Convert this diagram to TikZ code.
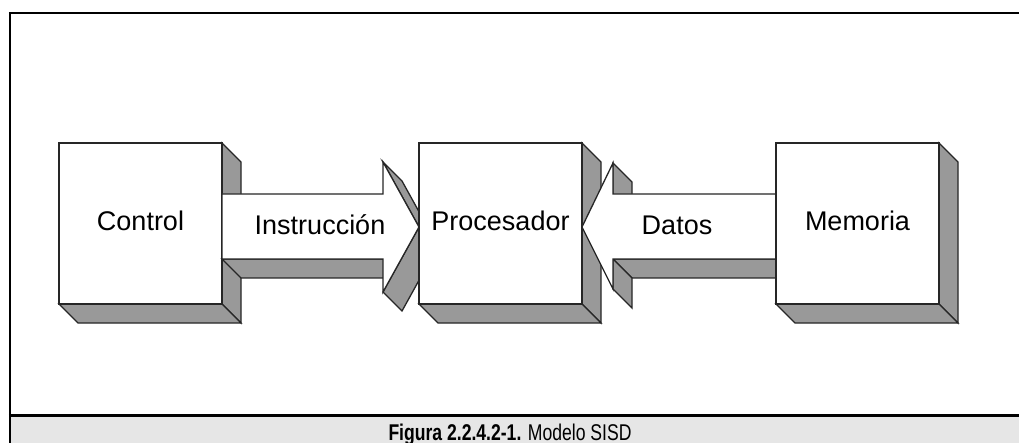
\documentclass[tikz,border=0pt]{standalone}
\usepackage{fontspec}
\setmainfont{Liberation Sans}
\usetikzlibrary{calc}
\definecolor{shade}{HTML}{999999}
\definecolor{edge}{HTML}{262626}
\definecolor{capbg}{HTML}{E6E6E6}
\tikzset{
  face/.style={fill=shade, draw=edge, line width=1.3pt, line join=miter},
  front/.style={fill=white, draw=edge, line width=1.3pt, line join=miter},
  box3d/.style={front, rectangle, inner sep=0pt, outer sep=0pt,
    minimum width=163pt, minimum height=161pt,
    font=\fontsize{27}{32}\selectfont, text height=19pt, text depth=4pt},
  arrowtext/.style={anchor=base, inner sep=0pt, font=\fontsize{27}{32}\selectfont},
  frameline/.style={line width=2.4pt, black},
}
\begin{document}
\begin{tikzpicture}[x=1pt,y=-1pt]
\useasboundingbox (0,0) rectangle (1019,443);
% frame and caption band
\fill[capbg] (10,415.5) rectangle (1019,443);
\draw[frameline] (8.8,13) -- (1019,13);
\draw[frameline] (10,13) -- (10,443);
\draw[frameline] (8.8,415.5) -- (1019,415.5);
\node[anchor=base, inner sep=0pt] (cap) at (510,440)
  {\resizebox{243pt}{16.5pt}{\textbf{Figura 2.2.4.2-1.} Modelo SISD}};

% ---- Control box
\coordinate (c0) at (140.5,223.5);
\path[face] (222,143) -- (241,162) -- (241,323) -- (222,304) -- cycle;
\path[face] (59,304) -- (78,323) -- (241,323) -- (222,304) -- cycle;
\node[box3d] (ctrl) at (c0) {Control};

% ---- Instruccion arrow
\path[face] (ctrl.east |- 0,259) -- (383,259) -- (402,278) -- (241,278) -- cycle;
\path[face] (383,162) -- (419,227) -- (438,246) -- (402,181) -- cycle;
\path[face] (419,227) -- (383,292) -- (402,311) -- (438,246) -- cycle;
\path[front] (ctrl.east |- 0,194) -- (383,194) -- (383,162) -- (419,227) -- (383,292)
  -- (383,259) -- (ctrl.east |- 0,259) -- cycle;
\node[arrowtext] (instr) at (320,235) {Instrucción};

% ---- Procesador box
\path[face] (582,143) -- (601,162) -- (601,323) -- (582,304) -- cycle;
\path[face] (419,304) -- (438,323) -- (601,323) -- (582,304) -- cycle;
\node[box3d] (proc) at (500.5,223.5) {Procesador};

% ---- Datos arrow
\path[face] (613,163) -- (632,182) -- (632,213) -- (613,194) -- cycle;
\path[face] (613,259) -- (776,259) -- (795,278) -- (632,278) -- cycle;
\path[face] (613,259) -- (632,278) -- (632,308) -- (613,289) -- cycle;
\path[front] (776,194) -- (613,194) -- (613,163) -- (proc.east |- 0,227) -- (613,289)
  -- (613,259) -- (776,259) -- cycle;
\node[arrowtext] (datos) at (677,235) {Datos};

% ---- Memoria box
\path[face] (939,143) -- (958,162) -- (958,323) -- (939,304) -- cycle;
\path[face] (776,304) -- (795,323) -- (958,323) -- (939,304) -- cycle;
\node[box3d] (mem) at (857.5,223.5) {Memoria};
\end{tikzpicture}
\end{document}
